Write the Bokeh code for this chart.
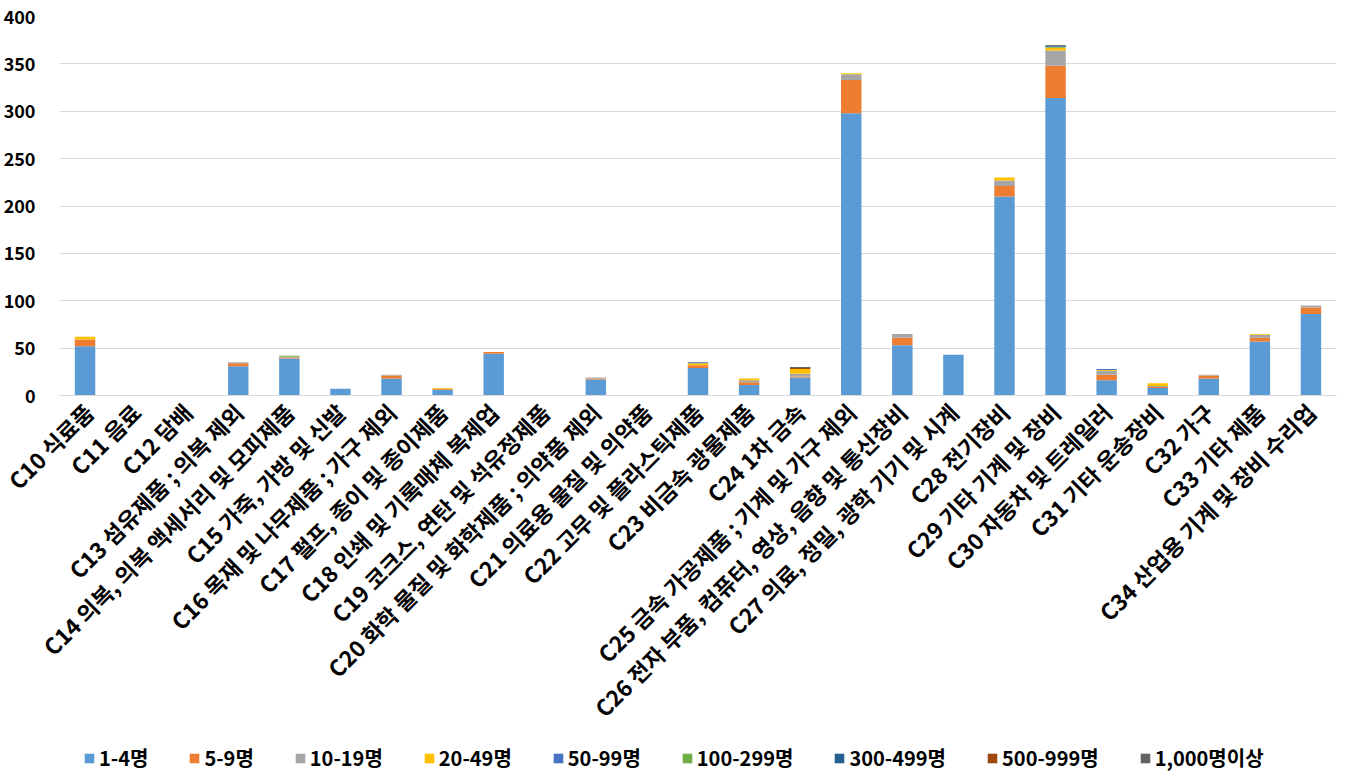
import math
from bokeh.plotting import figure
from bokeh.layouts import column
from bokeh.models import FixedTicker, Legend, LegendItem, ColumnDataSource, FactorRange
from bokeh.embed import file_html
from bokeh.resources import INLINE

categories = [
    "C10 식료품", "C11 음료", "C12 담배", "C13 섬유제품 ; 의복 제외",
    "C14 의복, 의복 액세서리 및 모피제품", "C15 가죽, 가방 및 신발",
    "C16 목재 및 나무제품 ; 가구 제외", "C17 펄프, 종이 및 종이제품",
    "C18 인쇄 및 기록매체 복제업", "C19 코크스, 연탄 및 석유정제품",
    "C20 화학 물질 및 화학제품 ; 의약품 제외", "C21 의료용 물질 및 의약품",
    "C22 고무 및 플라스틱제품", "C23 비금속 광물제품", "C24 1차 금속",
    "C25 금속 가공제품 ; 기계 및 가구 제외", "C26 전자 부품, 컴퓨터, 영상, 음향 및 통신장비",
    "C27 의료, 정밀, 광학 기기 및 시계", "C28 전기장비", "C29 기타 기계 및 장비",
    "C30 자동차 및 트레일러", "C31 기타 운송장비", "C32 가구", "C33 기타 제품",
    "C34 산업용 기계 및 장비 수리업",
]

series_names = ["1-4명", "5-9명", "10-19명", "20-49명", "50-99명",
                "100-299명", "300-499명", "500-999명", "1,000명이상"]

s_1_4     = [52, 0, 0, 31, 39, 7, 18, 6, 44, 0, 17, 0, 29, 11, 19, 298, 53, 43, 210, 314, 16, 8, 18, 57, 86]
s_5_9     = [7, 0, 0, 3, 1, 0, 3, 1, 2, 0, 1, 0, 3, 3, 1, 35, 8, 0, 11, 34, 6, 1, 3, 4, 7]
s_10_19   = [0, 0, 0, 1, 1, 0, 1, 0, 0, 0, 1, 0, 0, 2, 3, 6, 4, 0, 6, 16, 4, 1, 1, 3, 2]
s_20_49   = [3, 0, 0, 0, 0, 0, 0, 1, 0, 0, 0, 0, 2, 2, 5, 1, 0, 0, 3, 3, 1, 3, 0, 1, 0]
s_50_99   = [0, 0, 0, 0, 0, 0, 0, 0, 0, 0, 0, 0, 1, 0, 0, 0, 0, 0, 0, 0, 1, 0, 0, 0, 0]
s_100_299 = [0, 0, 0, 0, 1, 0, 0, 0, 0, 0, 0, 0, 0, 0, 0, 0, 0, 0, 0, 1, 0, 0, 0, 0, 0]
s_300_499 = [0, 0, 0, 0, 0, 0, 0, 0, 0, 0, 0, 0, 0, 0, 0, 0, 0, 0, 0, 1, 0, 0, 0, 0, 0]
s_500_999 = [0, 0, 0, 0, 0, 0, 0, 0, 0, 0, 0, 0, 0, 0, 1, 0, 0, 0, 0, 0, 0, 0, 0, 0, 0]
s_1000    = [0, 0, 0, 0, 0, 0, 0, 0, 0, 0, 0, 0, 0, 0, 1, 0, 0, 0, 0, 1, 0, 0, 0, 0, 0]

y_ticks = [0, 50, 100, 150, 200, 250, 300, 350, 400]

colors = ["#5B9BD5", "#ED7D31", "#A5A5A5", "#FFC000", "#4472C4",
          "#70AD47", "#255E91", "#9E480E", "#636363"]

FONT = "Noto Sans CJK KR"

keys = ["k%d" % i for i in range(9)]
data = {"cat": categories}
for k, s in zip(keys, [s_1_4, s_5_9, s_10_19, s_20_49, s_50_99,
                       s_100_299, s_300_499, s_500_999, s_1000]):
    data[k] = s
source = ColumnDataSource(data)

# ---- main chart ----
p = figure(x_range=FactorRange(*categories, range_padding=0), y_range=(0, 400),
           frame_width=1277, frame_height=379, output_backend="svg", toolbar_location=None,
           min_border_top=16, min_border_right=3, min_border_left=58, min_border_bottom=0)
p.outline_line_color = None
p.vbar_stack(keys, x="cat", width=0.4, source=source, color=colors, line_color=None)

p.yaxis.ticker = FixedTicker(ticks=y_ticks)
p.yaxis.axis_line_color = None
p.yaxis.major_tick_line_color = None
p.yaxis.minor_tick_line_color = None
p.yaxis.major_label_text_font = FONT
p.yaxis.major_label_text_font_style = "bold"
p.yaxis.major_label_text_font_size = "18px"
p.yaxis.major_label_text_color = "#000000"
p.yaxis.major_label_standoff = 18

p.xaxis.axis_line_color = "#D9D9D9"
p.xaxis.major_tick_line_color = None
p.xaxis.minor_tick_line_color = None
p.xaxis.major_label_orientation = math.pi / 4
p.xaxis.major_label_standoff = 6
p.xaxis.major_label_text_font = FONT
p.xaxis.major_label_text_font_style = "bold"
p.xaxis.major_label_text_font_size = "22.5px"
p.xaxis.major_label_text_color = "#000000"

p.xgrid.grid_line_color = None
p.ygrid.grid_line_color = "#D9D9D9"
p.ygrid.grid_line_width = 1

# ---- legend strip ----
q = figure(width=1338, height=48, output_backend="svg", toolbar_location=None,
           min_border_top=0, min_border_right=0, min_border_left=0, min_border_bottom=0)
q.outline_line_color = None
q.axis.visible = False
q.grid.visible = False
legend_src = ColumnDataSource(dict(x=[0], top=[0]))
dummy = [q.vbar(x="x", top="top", bottom="top", width=0, source=legend_src,
                color=c, line_color=None) for c in colors]
legend = Legend(items=[LegendItem(label=nm, renderers=[r]) for nm, r in zip(series_names, dummy)],
                orientation="horizontal", location=(24, 13))
legend.label_text_font = FONT
legend.label_text_font_style = "bold"
legend.label_text_font_size = "20px"
legend.label_text_color = "#000000"
legend.glyph_width = 12
legend.glyph_height = 12
legend.label_standoff = 4
legend.spacing = 40
legend.border_line_color = None
legend.background_fill_alpha = 0
legend.margin = 0
legend.padding = 2
q.add_layout(legend, "center")

layout = column(p, q, spacing=0)
open("out.html", "w").write(file_html(layout, INLINE))
